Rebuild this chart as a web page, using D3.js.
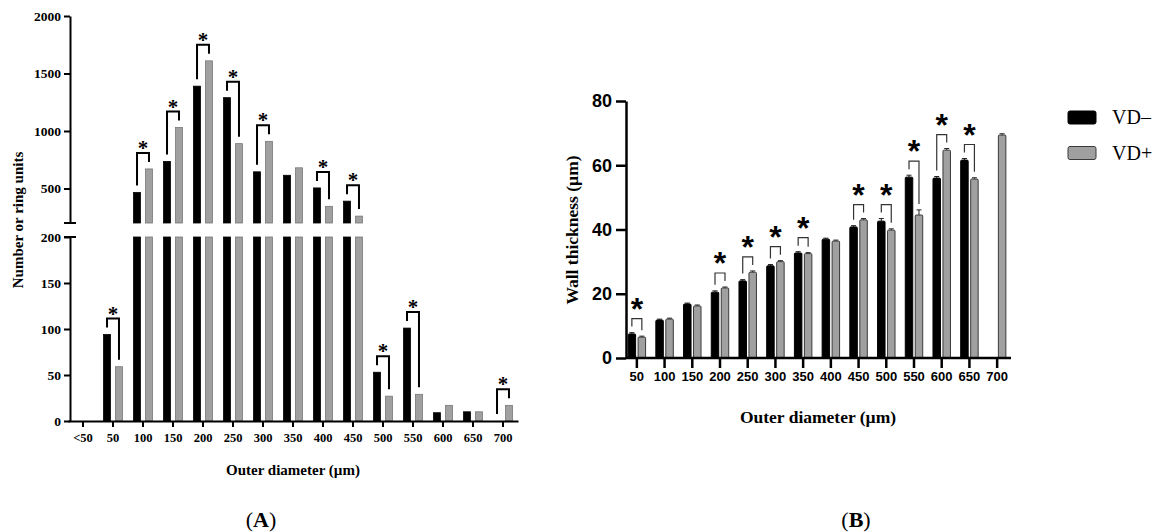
<!DOCTYPE html>
<html>
<head>
<meta charset="utf-8">
<script src="https://cdn.jsdelivr.net/npm/d3@7"></script>
<style>
  body { margin: 0; background: #fff; }
  svg { display: block; }
  .serif { font-family: "Liberation Serif", "Times New Roman", serif; font-weight: bold; }
  .sans { font-family: "Liberation Sans", Arial, sans-serif; font-weight: bold; }
</style>
</head>
<body>
<div class="app"></div>
<script>
'use strict'

// panel A: number of ring units
var catsA = ["<50", "50", "100", "150", "200", "250", "300", "350", "400", "450", "500", "550", "600", "650", "700"];
var vdMinusA = [0, 94, 465, 735, 1390, 1290, 645, 615, 505, 390, 53, 101, 9, 10, 0];
var vdPlusA = [0, 59, 670, 1030, 1610, 890, 910, 680, 345, 260, 27, 29, 17, 10, 17];
var sigA = [false, true, true, true, true, true, true, false, true, true, true, true, false, false, true];
var lowTicksA = [0, 50, 100, 150, 200];
var highTicksA = [500, 1000, 1500, 2000];

// panel B: wall thickness
var catsB = ["50", "100", "150", "200", "250", "300", "350", "400", "450", "500", "550", "600", "650", "700"];
var vdMinusB = [7.5, 11.8, 16.8, 20.5, 24, 28.7, 32.7, 37, 40.8, 42.6, 56.3, 56, 61.6, null];
var vdPlusB = [6.5, 12.1, 16.2, 21.8, 26.7, 30, 32.5, 36.4, 43, 39.8, 44.5, 64.7, 55.7, 69.4];
var errMinusB = [0.4, 0.3, 0.3, 0.4, 0.4, 0.4, 0.4, 0.3, 0.4, 0.8, 0.6, 0.5, 0.5, null];
var errPlusB = [0.3, 0.3, 0.3, 0.3, 0.4, 0.3, 0.3, 0.3, 0.4, 0.4, 1.6, 0.5, 0.4, 0.4];
var sigB = [true, false, false, true, true, true, true, false, true, true, true, true, true, false];
var ticksB = [0, 20, 40, 60, 80];

var series = ["VD–", "VD+"];
var fills = ["#000", "#a0a0a0"];

var svg = d3.select(".app").append("svg")
  .attr("width", 1156)
  .attr("height", 532);

svg.append("rect").attr("width", 1156).attr("height", 532).attr("fill", "#fff");

// ---------- Panel A ----------
var gA = svg.append("g").attr("class", "panel-a");

var xA = d3.scaleBand().domain(catsA).range([68, 518]).paddingInner(0.37).paddingOuter(0.185);
var subA = d3.scaleBand().domain([0, 1]).range([0, xA.bandwidth()]).paddingInner(0.42);

var yLow = d3.scaleLinear().domain([0, 200]).range([421, 237]);
var yHigh = d3.scaleLinear().domain([200, 2000]).range([223, 16]);
function yA(v) { return v <= 200 ? yLow(v) : yHigh(v); }

var dataA = [];
catsA.forEach(function(c, i) {
  [vdMinusA[i], vdPlusA[i]].forEach(function(v, s) {
    dataA.push({cat: c, s: s, v: v});
  });
});

// lower piece of each bar
gA.selectAll(".bar-low").data(dataA.filter(function(d) { return d.v > 0; }))
  .enter().append("rect")
  .attr("x", function(d) { return xA(d.cat) + subA(d.s); })
  .attr("width", subA.bandwidth())
  .attr("y", function(d) { return yLow(Math.min(d.v, 200)); })
  .attr("height", function(d) { return yLow(0) - yLow(Math.min(d.v, 200)); })
  .attr("fill", function(d) { return fills[d.s]; })
  .attr("stroke", function(d) { return d.s ? "#777" : "#000"; })
  .attr("stroke-width", 0.8);

// upper piece above the break
gA.selectAll(".bar-high").data(dataA.filter(function(d) { return d.v > 200; }))
  .enter().append("rect")
  .attr("x", function(d) { return xA(d.cat) + subA(d.s); })
  .attr("width", subA.bandwidth())
  .attr("y", function(d) { return yHigh(d.v); })
  .attr("height", function(d) { return yHigh(200) - yHigh(d.v); })
  .attr("fill", function(d) { return fills[d.s]; })
  .attr("stroke", function(d) { return d.s ? "#777" : "#000"; })
  .attr("stroke-width", 0.8);

// significance brackets
catsA.forEach(function(c, i) {
  if (!sigA[i]) return;
  var x0 = xA(c) + subA(0) + subA.bandwidth() / 2;
  var x1 = xA(c) + subA(1) + subA.bandwidth() / 2;
  var t0 = yA(vdMinusA[i]), t1 = yA(vdPlusA[i]);
  var top = Math.min(t0, t1) - 16;
  var l0 = Math.max(t0 - 7, top + 6), l1 = Math.max(t1 - 7, top + 6);
  gA.append("path")
    .attr("d", "M" + x0 + "," + l0 + "V" + top + "H" + x1 + "V" + l1)
    .attr("fill", "none").attr("stroke", "#000").attr("stroke-width", 2);
  gA.append("text").attr("class", "serif")
    .attr("x", (x0 + x1) / 2).attr("y", top + 2)
    .attr("text-anchor", "middle").attr("font-size", 21)
    .text("*");
});

function styleAxis(g, fontClass, size, width) {
  g.attr("font-family", null).attr("font-size", null);
  g.selectAll("path, line").attr("stroke", "#000").attr("stroke-width", width);
  g.selectAll("text").attr("class", fontClass).attr("font-size", size).attr("fill", "#000");
}

gA.append("g").attr("transform", "translate(70,0)")
  .call(d3.axisLeft(yLow).tickValues(lowTicksA).tickFormat(d3.format("d")).tickSize(6).tickSizeOuter(0).tickPadding(3))
  .call(styleAxis, "serif", 13.5, 2);

gA.append("g").attr("transform", "translate(70,0)")
  .call(d3.axisLeft(yHigh).tickValues(highTicksA).tickFormat(d3.format("d")).tickSize(6).tickSizeOuter(0).tickPadding(3))
  .call(styleAxis, "serif", 13.5, 2);

// break caps
[yHigh(200), yLow(200)].forEach(function(y) {
  gA.append("line").attr("x1", 64).attr("x2", 76).attr("y1", y).attr("y2", y)
    .attr("stroke", "#000").attr("stroke-width", 2);
});

gA.append("g").attr("transform", "translate(0," + yLow(0) + ")")
  .call(d3.axisBottom(xA).tickSize(6).tickSizeOuter(0).tickPadding(6))
  .call(styleAxis, "serif", 12.5, 2);

gA.append("text").attr("class", "serif")
  .attr("x", 293).attr("y", 475).attr("text-anchor", "middle").attr("font-size", 15)
  .text("Outer diameter (µm)");

gA.append("text").attr("class", "serif")
  .attr("transform", "translate(23,220) rotate(-90)")
  .attr("text-anchor", "middle").attr("font-size", 15)
  .text("Number or ring units");

// ---------- Panel B ----------
var gB = svg.append("g").attr("class", "panel-b");

var xB = d3.scaleBand().domain(catsB).range([623, 1011]).paddingInner(0.37).paddingOuter(0.185);
var subB = d3.scaleBand().domain([0, 1]).range([0, xB.bandwidth()]).paddingInner(0.25);
var yB = d3.scaleLinear().domain([0, 80]).range([358, 101]);

var dataB = [];
catsB.forEach(function(c, i) {
  dataB.push({cat: c, s: 0, v: vdMinusB[i], e: errMinusB[i]});
  dataB.push({cat: c, s: 1, v: vdPlusB[i], e: errPlusB[i]});
});
dataB = dataB.filter(function(d) { return d.v != null; });

gB.selectAll(".err").data(dataB).enter().append("path")
  .attr("d", function(d) {
    var cx = xB(d.cat) + subB(d.s) + subB.bandwidth() / 2;
    var yt = yB(d.v + d.e);
    return "M" + cx + "," + yB(d.v) + "V" + yt + "M" + (cx - 2.5) + "," + yt + "H" + (cx + 2.5);
  })
  .attr("stroke", "#222").attr("stroke-width", 1).attr("fill", "none");

gB.selectAll(".bar").data(dataB).enter().append("rect")
  .attr("x", function(d) { return xB(d.cat) + subB(d.s); })
  .attr("width", subB.bandwidth())
  .attr("y", function(d) { return yB(d.v); })
  .attr("height", function(d) { return yB(0) - yB(d.v); })
  .attr("rx", 1)
  .attr("fill", function(d) { return fills[d.s]; })
  .attr("stroke", function(d) { return d.s ? "#3a3a3a" : "#000"; })
  .attr("stroke-width", 1);

catsB.forEach(function(c, i) {
  if (!sigB[i]) return;
  var x0 = xB(c) + subB(0) + subB.bandwidth() / 2;
  var x1 = xB(c) + subB(1) + subB.bandwidth() / 2;
  var t0 = yB(vdMinusB[i] + errMinusB[i]), t1 = yB(vdPlusB[i] + errPlusB[i]);
  var top = Math.min(t0, t1) - 14;
  var l0 = Math.max(t0 - 6, top + 4), l1 = Math.max(t1 - 6, top + 4);
  gB.append("path")
    .attr("d", "M" + x0 + "," + l0 + "V" + top + "H" + x1 + "V" + l1)
    .attr("fill", "none").attr("stroke", "#333").attr("stroke-width", 1.2);
  gB.append("text").attr("class", "sans")
    .attr("x", (x0 + x1) / 2).attr("y", top + 1)
    .attr("text-anchor", "middle").attr("font-size", 32)
    .text("*");
});

gB.append("g").attr("transform", "translate(626,0)")
  .call(d3.axisLeft(yB).tickValues(ticksB).tickSize(10).tickSizeOuter(0).tickPadding(4))
  .call(styleAxis, "sans", 18, 2.5);

gB.append("g").attr("transform", "translate(0," + yB(0) + ")")
  .call(d3.axisBottom(xB).tickSize(10).tickSizeOuter(0).tickPadding(4))
  .call(styleAxis, "sans", 13, 2.5)
  .select(".domain").attr("d", "M626,0H1011");

gB.append("text").attr("class", "serif")
  .attr("x", 818).attr("y", 423).attr("text-anchor", "middle").attr("font-size", 17.5)
  .text("Outer diameter (µm)");

gB.append("text").attr("class", "serif")
  .attr("transform", "translate(578,230) rotate(-90)")
  .attr("text-anchor", "middle").attr("font-size", 17.5)
  .text("Wall thickness (µm)");

// legend
var legend = gB.append("g").attr("transform", "translate(1068,111)");
series.forEach(function(name, s) {
  var row = legend.append("g").attr("transform", "translate(0," + (s * 35.5) + ")");
  row.append("rect").attr("width", 28).attr("height", 13).attr("rx", 2)
    .attr("fill", fills[s]).attr("stroke", s ? "#3a3a3a" : "#000").attr("stroke-width", 1);
  row.append("text")
    .attr("x", 44).attr("y", 13)
    .attr("font-family", "'Liberation Serif', 'Times New Roman', serif")
    .attr("font-size", 20)
    .text(name);
});

// panel letters
[["A", 261], ["B", 856]].forEach(function(p) {
  var t = svg.append("text").attr("x", p[1]).attr("y", 527)
    .attr("text-anchor", "middle")
    .attr("font-family", "'Liberation Serif', 'Times New Roman', serif")
    .attr("font-size", 22);
  t.append("tspan").text("(");
  t.append("tspan").attr("font-weight", "bold").text(p[0]);
  t.append("tspan").text(")");
});
</script>
</body>
</html>
